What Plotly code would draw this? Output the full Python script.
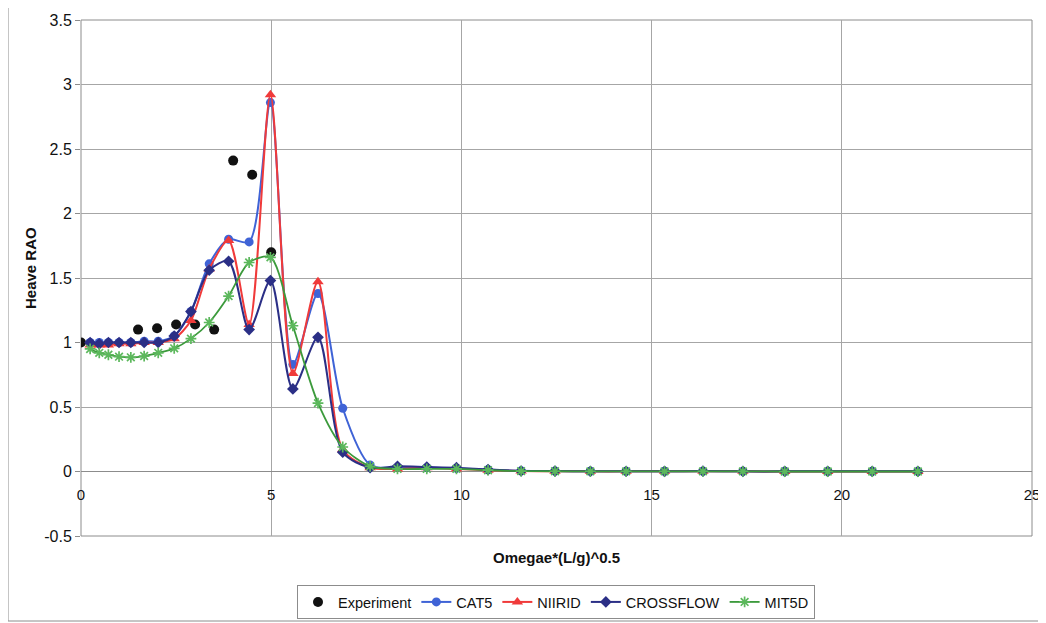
import plotly.graph_objects as go

# ---------------- data ----------------
x_exp = [0.0, 1.5, 2.0, 2.5, 3.0, 3.5, 4.0, 4.5, 5.0]
y_exp = [1.00, 1.10, 1.11, 1.14, 1.14, 1.10, 2.41, 2.30, 1.70]

x_model = [0.24, 0.48, 0.72, 1.0, 1.31, 1.66, 2.03, 2.45, 2.89, 3.37, 3.88, 4.42,
           4.98, 5.57, 6.23, 6.88, 7.6, 8.32, 9.09, 9.87, 10.7, 11.57, 12.46,
           13.39, 14.33, 15.34, 16.35, 17.4, 18.5, 19.63, 20.8, 22.0]

cat5 = [1.00, 1.00, 1.00, 1.00, 1.00, 1.01, 1.01, 1.05, 1.24, 1.61, 1.80, 1.78,
        2.86, 0.83, 1.38, 0.49, 0.05, 0.03, 0.03, 0.025, 0.015, 0.005, 0.003,
        0.002, 0.002, 0.002, 0.002, 0.001, 0.001, 0.001, 0.001, 0.001]
niirid = [0.98, 0.98, 0.98, 0.99, 0.99, 1.00, 1.00, 1.03, 1.17, 1.57, 1.79, 1.14,
          2.92, 0.76, 1.47, 0.17, 0.03, 0.02, 0.03, 0.02, 0.01, 0.003, 0.002,
          0.001, 0.001, 0.001, 0.001, 0.001, 0.0, 0.0, 0.0, 0.0]
crossflow = [1.00, 0.99, 1.00, 1.00, 1.00, 1.00, 1.00, 1.05, 1.24, 1.56, 1.63, 1.10,
             1.48, 0.64, 1.04, 0.15, 0.03, 0.04, 0.035, 0.03, 0.015, 0.004, 0.003,
             0.002, 0.002, 0.001, 0.003, 0.001, 0.001, 0.001, 0.001, 0.001]
mit5d = [0.95, 0.92, 0.905, 0.89, 0.885, 0.895, 0.92, 0.955, 1.03, 1.155, 1.36, 1.62,
         1.66, 1.13, 0.53, 0.19, 0.04, 0.02, 0.02, 0.02, 0.01, 0.003, 0.002,
         0.001, 0.001, 0.001, 0.001, 0.001, 0.0, 0.0, 0.0, 0.0]

x_ticks = [0, 5, 10, 15, 20, 25]
y_ticks = [-0.5, 0, 0.5, 1, 1.5, 2, 2.5, 3, 3.5]

# ---------------- layout geometry (screen px; page body has an 8px margin) ----------------
OFF = 8
W, H = 1046 - OFF, 623 - OFF
P_LEFT, P_RIGHT, P_TOP, P_BOTTOM = 81, 1032, 20, 536  # plot area on screen
ML = P_LEFT - OFF
MT = P_TOP - OFF
MR = W - (P_RIGHT - OFF)
MB = H - (P_BOTTOM - OFF)
plot_w = P_RIGHT - P_LEFT
plot_h = P_BOTTOM - P_TOP


def px(sx):  # screen x -> paper fraction
    return (sx - P_LEFT) / plot_w


def py(sy):  # screen y -> paper fraction
    return (P_BOTTOM - sy) / plot_h


y_range = [-0.5, 3.5]
zero_pos = (0 - y_range[0]) / (y_range[1] - y_range[0])

FONT = "Liberation Sans, Arial, sans-serif"
GRID = "#a6a6a6"

fig = go.Figure()

fig.add_trace(go.Scatter(
    x=x_exp, y=y_exp, mode="markers", name="Experiment",
    marker=dict(symbol="circle", size=10, color="#111111"),
))

line_series = [
    ("CAT5", cat5, "#3f63d6", "circle", 9),
    ("NIIRID", niirid, "#f03a3a", "triangle-up", 10),
    ("CROSSFLOW", crossflow, "#2b2f86", "diamond", 9),
]
for name, ys, col, sym, sz in line_series:
    fig.add_trace(go.Scatter(
        x=x_model, y=ys, mode="lines+markers", name=name,
        line=dict(color=col, width=2, shape="spline", smoothing=0.8),
        marker=dict(symbol=sym, size=sz, color=col),
    ))

fig.add_trace(go.Scatter(
    x=x_model, y=mit5d, mode="lines+markers", name="MIT5D",
    line=dict(color="#3c9a3c", width=1.8, shape="spline", smoothing=0.8),
    marker=dict(symbol="asterisk-open", size=9, color="#5cb85c",
                line=dict(color="#4aa84a", width=1.7)),
))

fig.update_layout(
    width=W, height=H,
    margin=dict(l=ML, r=MR, t=MT, b=MB, autoexpand=False),
    paper_bgcolor="white", plot_bgcolor="white",
    font=dict(family=FONT, size=14, color="#111111"),
    showlegend=True,
    legend=dict(
        orientation="h", x=px(556), xanchor="center",
        y=py(585), yanchor="top",
        bordercolor="#8c8c8c", borderwidth=1,
        font=dict(family=FONT, size=14.5, color="#111111"),
        itemwidth=30, tracegroupgap=0,
    ),
    xaxis=dict(
        range=[0, 25], tickvals=x_ticks, ticktext=[str(v) for v in x_ticks],
        showgrid=True, gridcolor=GRID, gridwidth=1,
        zeroline=False, showline=False, automargin=False,
        anchor="free", position=zero_pos,
        ticks="", ticklabelstandoff=12,
        tickfont=dict(family=FONT, size=15, color="#111111"),
    ),
    yaxis=dict(
        range=y_range, tickvals=y_ticks,
        ticktext=[("%g" % v) for v in y_ticks],
        showgrid=True, gridcolor=GRID, gridwidth=1,
        zeroline=True, zerolinecolor="#8c8c8c", zerolinewidth=1,
        showline=False, ticks="outside", ticklen=5, tickcolor="#8c8c8c",
        automargin=False,
        tickfont=dict(family=FONT, size=16, color="#111111"),
    ),
    shapes=[
        # plot-area border
        dict(type="rect", xref="paper", yref="paper", x0=0, x1=1, y0=0, y1=1,
             line=dict(color="#8c8c8c", width=1), layer="below"),
        # outer chart frame
        dict(type="rect", xref="paper", yref="paper",
             x0=px(8), x1=px(1042), y0=py(621), y1=py(5),
             line=dict(color="#8c8c8c", width=1)),
    ],
    annotations=[
        dict(text="<b>Omegae*(L/g)^0.5</b>", xref="paper", yref="paper",
             x=0.5, y=py(557), showarrow=False,
             xanchor="center", yanchor="middle",
             font=dict(family=FONT, size=15, color="#111111")),
        dict(text="<b>Heave RAO</b>", xref="paper", yref="paper",
             x=px(30), y=py(268), showarrow=False,
             textangle=-90, xanchor="center", yanchor="middle",
             font=dict(family=FONT, size=15, color="#111111")),
    ],
)

fig.write_html("out.html")
